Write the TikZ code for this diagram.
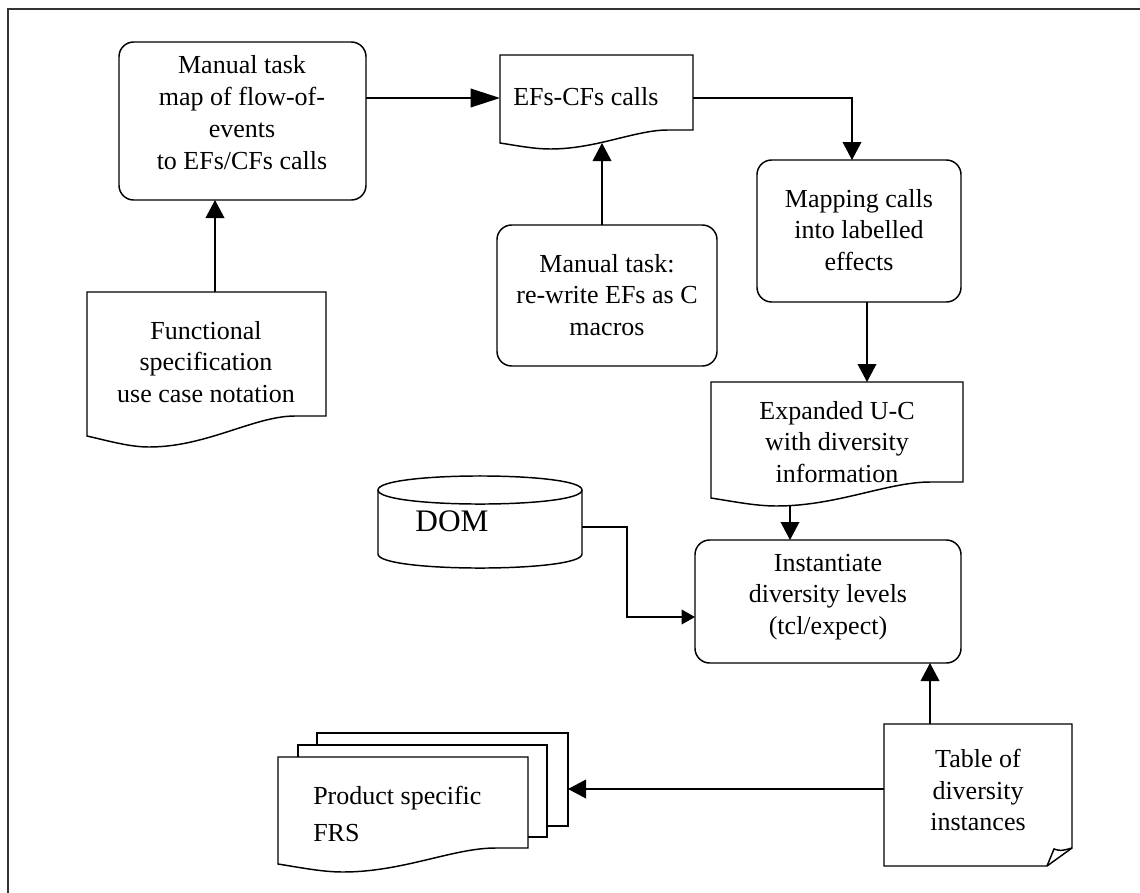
\documentclass[tikz,border=0pt]{standalone}
\usepackage{fontspec}
\setmainfont{Liberation Serif}
\usetikzlibrary{arrows.meta,fit}
\newcommand{\docpath}[6]{%
  \draw[ln, fill=white] (#1,#3) -- (#1,#4)
    .. controls ({#1+0.1*(#2-#1)},{#4+0.5*(#5-#4)}) and ({#1+0.18*(#2-#1)},#5) .. ({#1+0.26*(#2-#1)},#5)
    .. controls ({#1+0.5*(#2-#1)},#5) and ({#1+0.7*(#2-#1)},#6) .. ({#1+0.87*(#2-#1)},#6)
    -- (#2,#6) -- (#2,#3) -- cycle;}
\begin{document}
\begin{tikzpicture}[x=0.75pt,y=-0.75pt,
  ln/.style={line width=1.1pt},
  rbox/.style={draw, ln, rounded corners=11pt, inner sep=0pt},
  ghost/.style={inner sep=0pt, draw=none},
  txt/.style={font=\fontsize{19.5}{23.5}\selectfont, align=center, inner sep=0pt},
  conn/.style={ln, -{Triangle[length=13.5pt,width=14pt]}},
  longtip/.style={ln, -{Triangle[length=22pt,width=14pt]}},
  smalltip/.style={ln, -{Triangle[length=10pt,width=11pt]}},
]
\useasboundingbox (0,0) rectangle (1140,893);
\draw[line width=1.1pt, black!80] (1140,9) -- (8,9) -- (8,893);

% rounded process boxes
\node[rbox, fit={(119,42)(366,200)}] (box1) {};
\node[txt, font=\fontsize{19.5}{24}\selectfont] (box1t) at (242,113) {Manual task\\map of flow-of-\\events\\to EFs/CFs calls};

\node[rbox, fit={(757,160)(961,302)}] (map) {};
\node[txt] (mapt) at (859,230) {Mapping calls\\into labelled\\effects};

\node[rbox, fit={(497,225)(717,366)}] (rew) {};
\node[txt] (rewt) at (607,295) {Manual task:\\re-write EFs as C\\macros};

\node[rbox, fit={(695,540)(961,663)}] (inst) {};
\node[txt] (instt) at (828,597) {Instantiate\\diversity levels\\(tcl/expect)};

% document shapes
\docpath{500}{693}{55}{143}{149}{130}
\node[ghost, fit={(500,55)(693,149)}] (efs) {};
\node[txt, anchor=west] (efst) at (513,97) {EFs-CFs calls};

\docpath{87}{326}{292}{436}{447}{416}
\node[ghost, fit={(87,292)(326,447)}] (func) {};
\node[txt] (funct) at (206,362) {Functional\\specification\\use case notation};

\docpath{711}{963}{382}{498}{506}{482}
\node[ghost, fit={(711,382)(963,506)}] (exp) {};
\node[txt] (expt) at (837,442) {Expanded U-C\\with diversity\\information};

% stacked documents
\draw[ln, fill=white] (317,733) rectangle (568,826);
\draw[ln, fill=white] (298,745) rectangle (547,837);
\docpath{278}{528}{757}{864}{872}{848}
\node[ghost, fit={(278,733)(568,872)}] (frs) {};
\node[txt, align=left, anchor=west, font=\fontsize{19.5}{27.5}\selectfont] (frst) at (313,814) {Product specific\\FRS};

% table with folded corner
\draw[ln, fill=white] (884,724) -- (884,866) -- (1047,866) -- (1072,848) -- (1072,724) -- cycle;
\draw[ln] (1047,866) -- (1054,849) .. controls (1061,851) .. (1072,848);
\node[ghost, fit={(884,724)(1072,866)}] (tab) {};
\node[txt] (tabt) at (978,790) {Table of\\diversity\\instances};

% cylinder
\draw[ln, fill=white] (378,490) -- (378,554) .. controls (378,572.7) and (582,572.7) .. (582,554) -- (582,490)
  .. controls (582,471.3) and (378,471.3) .. (378,490) -- cycle;
\draw[ln] (378,490) .. controls (378,508.7) and (582,508.7) .. (582,490);
\node[ghost, fit={(378,476)(582,568)}] (dom) {};
\node[txt, font=\fontsize{23.5}{28}\selectfont] (domt) at (452,521) {DOM};

% connector attach points
\coordinate (box1S) at (215,200);
\coordinate (funcN) at (215,292);
\coordinate (box1E) at (366,98);
\coordinate (efsW) at (500,98);
\coordinate (efsE) at (693,98);
\coordinate (mapN) at (852,160);
\coordinate (efsS) at (602,143);
\coordinate (rewN) at (602,225);
\coordinate (mapS) at (867,302);
\coordinate (expN) at (867,382);
\coordinate (expS) at (790,505);
\coordinate (instN) at (790,540);
\coordinate (domE) at (582,527);
\coordinate (instW) at (695,617);
\coordinate (tabN) at (930,724);
\coordinate (instS) at (930,663);
\coordinate (tabW) at (884,789);
\coordinate (frsE) at (568,789);

\draw[conn] (funcN) -- (box1S);
\draw[longtip] (box1E) -- (efsW);
\draw[conn] (efsE) -| (mapN);
\draw[conn] (rewN) -- (efsS);
\draw[conn] (mapS) -- (expN);
\draw[conn] (expS) -- (instN);
\draw[smalltip] (domE) -- (627,527) |- (instW);
\draw[conn] (tabN) -- (instS);
\draw[conn] (tabW) -- (frsE);
\end{tikzpicture}
\end{document}
